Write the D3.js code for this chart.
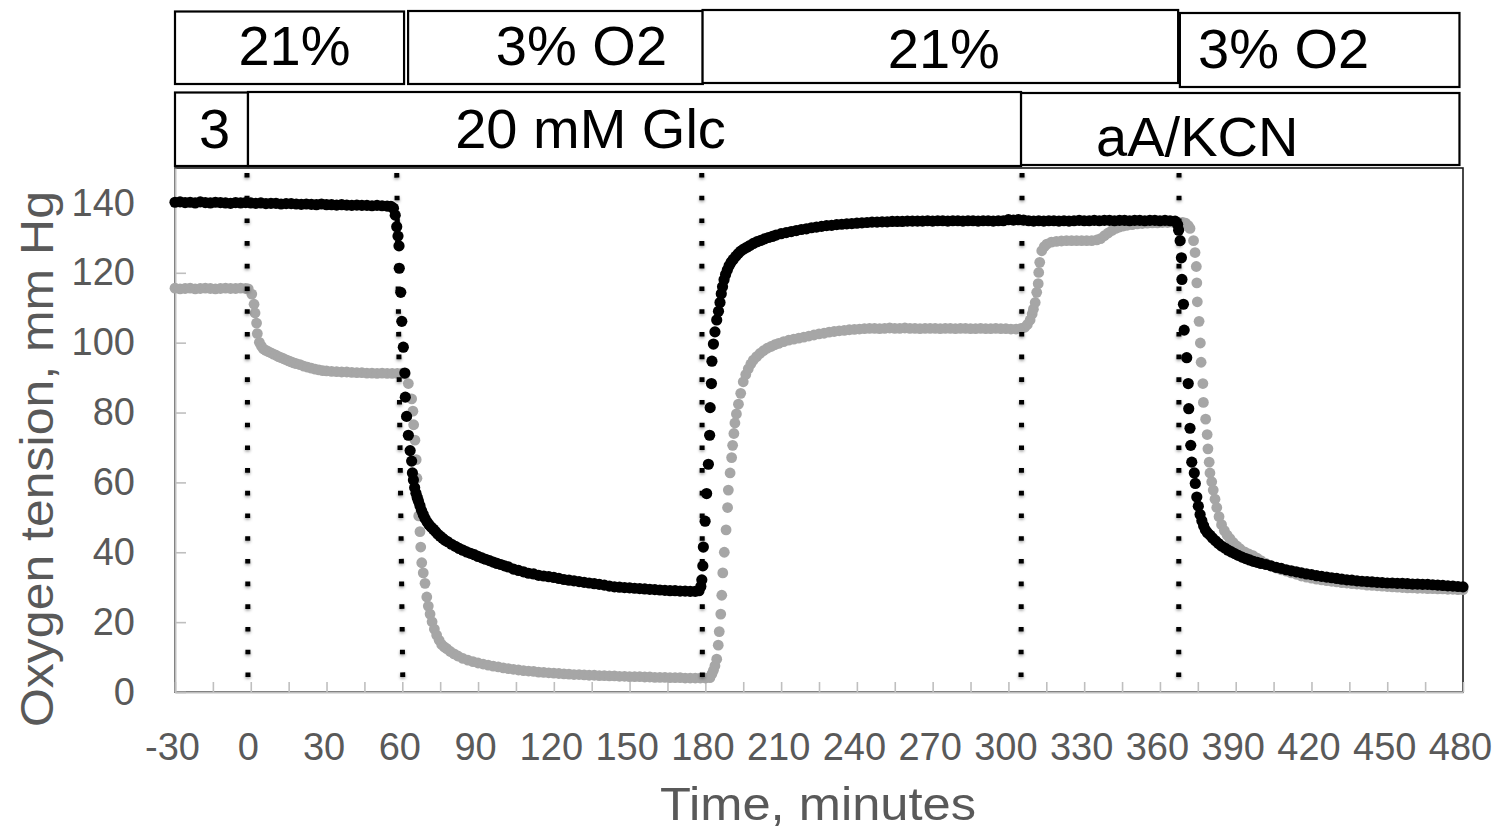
<!DOCTYPE html>
<html>
<head>
<meta charset="utf-8">
<script src="https://cdn.jsdelivr.net/npm/d3@7"></script>
<style>
  html, body { margin: 0; padding: 0; background: #fff; }
  svg { display: block; font-family: "Liberation Sans", Arial, sans-serif; }
</style>
</head>
<body>
<svg id="chart" width="1500" height="830"></svg>
<script>
// Oxygen tension traces, [time in minutes, mm Hg]
const blackTrace = [
[-30,140.2],[-28,140.3],[-26,140.1],[-24,140.2],[-22,140.0],[-20,140.3],[-18,140.1],[-16,140.0],[-14,140.2],[-12,140.1],[-10,140.0],[-8,139.9],[-6,140.1],[-4,140.0],[-2,140.1],[0,140.0],[2,139.9],[4,140.0],[6,139.8],[8,139.9],[10,139.9],[12,139.7],[14,139.8],[16,139.8],[18,139.7],[20,139.6],[22,139.7],[24,139.6],[26,139.5],[28,139.7],[30,139.5],[32,139.5],[34,139.4],[36,139.5],[38,139.4],[40,139.3],[42,139.4],[44,139.3],[46,139.3],[48,139.2],[50,139.3],[52,139.2],[54,139.1],[55.5,139.0],[56.5,138.5],
[57.2,136.5],[57.8,133.2],[58.3,130.5],[58.7,127.7],[58.8,121.3],[59.4,114.4],[59.8,106.1],[60.4,98.7],[61.0,91.3],[61.2,84.4],[61.7,78.9],[62.4,73.5],[63.1,69.1],[63.7,66.1],[64.0,62.7],[64.4,60.7],[64.9,58.5],[65.4,56.9],[65.9,55.7],[66.4,54.6],[67,53.3],[67.6,52.0],[68.3,50.8],[69,49.7],[69.8,48.7],[70.6,47.9],[71.4,47.2],[72.3,46.6],[73.2,45.9],[74,45.2],[75,44.6],[76,44.0],[77,43.4],[78,43.0],[79.5,42.3],[81,41.7],[82.5,41.1],[84,40.6],[85.5,40.1],[87,39.7],[88.5,39.3],[90,38.8],[91.5,38.4],[93,38.0],[94.5,37.6],[96,37.2],[97.5,36.8],[99,36.5],[100.5,36.1],[102,35.8],[104,35.2],[106,34.8],[108,34.4],[110,34.0],[112,33.8],[114,33.4],[116,33.2],[118,33.0],[120,32.8],[122,32.5],[124,32.2],[126,32.0],[128,31.8],[130,31.6],[132,31.4],[134,31.2],[136,31.0],[138,30.8],[140,30.6],[142,30.3],[144,30.1],[146,30.0],[148,29.9],[150,29.8],[152,29.7],[154,29.6],[156,29.5],[158,29.4],[160,29.3],[162,29.2],[164,29.1],[166,29.0],[168,29.0],[170,28.9],[172,28.9],[174,28.8],[176,28.8],[177.5,29.0],
[178.2,30.2],[178.6,32.1],[179.0,36.1],[179.2,41.5],[179.9,48.9],[180.5,56.8],[181.2,65.2],[181.7,73.5],[181.9,81.4],[182.4,88.3],[182.6,94.7],[183.2,99.6],[183.8,103.1],[184.5,106.5],[185.2,109.0],[185.8,111.5],[186.3,114.0],[186.8,116.0],[187.4,118.0],[188,119.5],[188.7,120.8],[189.4,122.0],[190.2,123.0],[191,123.8],[192,124.7],[193,125.5],[194,126.2],[195.2,126.8],[196.4,127.3],[197.6,127.8],[199,128.4],[200.5,128.9],[202,129.3],[203.5,129.7],[205,130.1],[206.5,130.4],[208,130.8],[210,131.2],[212,131.5],[214,131.8],[216,132.1],[218,132.4],[220,132.6],[222,132.9],[224,133.1],[226,133.3],[228,133.5],[230,133.6],[232,133.8],[234,133.9],[236,134.0],[238,134.1],[240,134.2],[242,134.3],[244,134.4],[246,134.5],[248,134.5],[250,134.6],[252,134.6],[254,134.7],[256,134.7],[258,134.7],[260,134.8],[262,134.8],[264,134.8],[266,134.8],[268,134.9],[270,134.8],[272,134.9],[274,134.9],[276,134.8],[278,134.9],[280,134.9],[282,134.8],[284,134.9],[286,134.9],[288,134.8],[290,134.9],[292,134.9],[294,134.8],[296,134.9],[298,134.9],[300,135.2],[302,135.1],[304,135.2],[306,135.1],[308,134.9],[310,134.8],[312,134.9],[314,134.8],[316,134.9],[318,134.9],[320,134.8],[322,134.9],[324,134.8],[326,134.9],[328,135.0],[330,134.9],[332,134.9],[334,135.0],[336,134.9],[338,135.0],[340,135.0],[342,134.9],[344,135.0],[346,135.0],[348,134.9],[350,135.0],[352,135.0],[354,134.9],[356,135.0],[358,135.0],[360,134.9],[362,135.0],[364,134.9],[366,134.8],
[367.0,133.8],[367.4,132.2],[368,129.2],[368.5,124.3],[368.7,118.1],[369.3,111.0],[369.6,103.6],[370.6,95.7],[371.2,88.3],[371.4,81.1],[371.9,75.5],[372.2,70.6],[372.6,65.8],[373.6,62.7],[374.0,59.7],[374.6,55.8],[375.2,53.2],[375.9,50.8],[376.6,49.0],[377.3,47.6],[378,46.4],[378.8,45.6],[379.8,44.9],[380.8,44.1],[382,43.3],[383.2,42.5],[384.4,41.8],[385.7,41.2],[387,40.6],[388.3,40.1],[389.6,39.6],[391,39.1],[392.5,38.6],[394,38.2],[395.5,37.8],[397,37.4],[398.5,37.1],[400,36.8],[402,36.5],[404,36.1],[406,35.7],[408,35.4],[410,35.0],[412,34.7],[414,34.4],[416,34.1],[418,33.8],[420,33.6],[422,33.3],[424,33.1],[426,32.9],[428,32.7],[430,32.5],[432,32.3],[434,32.1],[436,32.0],[438,31.8],[440,31.7],[442,31.6],[444,31.5],[446,31.4],[448,31.3],[450,31.2],[452,31.2],[454,31.1],[456,31.1],[458,31.0],[460,30.9],[462,30.9],[464,30.8],[466,30.8],[468,30.7],[470,30.6],[472,30.5],[474,30.4],[476,30.3],[478,30.2],[480,30.1]
];

const grayTrace = [
[-30,115.6],[-28,115.4],[-26,115.5],[-24,115.6],[-22,115.4],[-20,115.5],[-18,115.6],[-16,115.5],[-14,115.4],[-12,115.5],[-10,115.6],[-8,115.5],[-6,115.5],[-4,115.6],[-2,115.5],[-1,115.4],
[0.4,113.9],[1.3,111.0],[1.7,108.5],[2.3,105.6],[2.6,102.6],[3.4,100.1],[4.2,99.0],[5,98.2],[6,97.8],[7,97.4],[8,97.1],[9,96.7],[10,96.4],[11,96.0],[12,95.7],[13,95.4],[14,95.1],[15,94.8],[16,94.5],[17,94.2],[18,94.0],[19.5,93.7],[21,93.3],[22.5,93.0],[24,92.7],[25.5,92.4],[27,92.2],[28.5,92.0],[30,91.9],[32,91.8],[34,91.7],[36,91.6],[38,91.6],[40,91.5],[42,91.4],[44,91.4],[46,91.3],[48,91.3],[50,91.2],[52,91.3],[54,91.2],[56,91.2],[58,91.2],[60,91.3],
[61.1,91.0],[62.4,88.3],[63.7,83.9],[64.2,80.4],[64.5,76.5],[65,72.1],[65.5,66.5],[65.8,61.2],[66.2,55.5],[66.5,50.4],[67,45.9],[67.3,41.5],[67.7,37.0],[68.3,34.1],[69,31.1],[69.7,27.2],[70.3,24.6],[71,22.3],[71.8,20.1],[72.7,18.0],[73.6,16.3],[74.6,14.8],[75.6,13.6],[76.6,12.9],[77.6,12.4],[79,11.6],[80.5,10.9],[82,10.3],[84,9.6],[86,9.1],[88,8.7],[90,8.3],[92,8.0],[94,7.7],[96,7.4],[98,7.2],[100,6.9],[102,6.7],[104,6.5],[106,6.3],[108,6.1],[110,6.0],[112,5.9],[114,5.7],[116,5.6],[118,5.5],[120,5.4],[122,5.3],[124,5.2],[126,5.1],[128,5.0],[130,5.0],[132,4.9],[134,4.8],[136,4.8],[138,4.7],[140,4.7],[142,4.6],[144,4.6],[146,4.5],[148,4.5],[150,4.4],[152,4.4],[154,4.4],[156,4.3],[158,4.3],[160,4.2],[162,4.2],[164,4.2],[166,4.1],[168,4.1],[170,4.1],[172,4.0],[174,4.0],[176,4.0],[178,4.0],[180,4.0],[181.8,4.1],
[182.6,5.2],[183.2,6.2],[183.8,7.5],[184.5,9.4],[185.1,13.4],[185.5,17.3],[186.1,22.3],[186.5,27.7],[186.9,34.1],[187.5,40.0],[188.2,46.4],[188.8,52.8],[189.1,57.8],[189.8,62.7],[190.4,67.1],[190.8,70.6],[191.3,74.0],[191.7,77.0],[192.3,79.6],[193.1,82.4],[194,85.5],[195,88.8],[196,90.9],[197,92.5],[198,93.9],[199,95.0],[200.3,96.0],[201.6,96.9],[203,97.7],[204.5,98.4],[206,98.9],[207.5,99.4],[209,99.8],[211,100.3],[213,100.7],[215,101.0],[217,101.3],[219,101.6],[221,101.9],[223,102.2],[225,102.5],[227,102.7],[229,103.0],[231,103.2],[233,103.4],[235,103.5],[237,103.7],[239,103.8],[241,103.9],[243,104.0],[245,104.1],[247,104.1],[249,104.0],[251,104.1],[253,104.2],[255,104.1],[257,104.1],[259,104.2],[261,104.1],[263,104.1],[265,104.0],[267,104.1],[269,104.1],[271,104.1],[273,104.0],[275,104.1],[277,104.1],[279,104.0],[281,104.1],[283,104.1],[285,104.0],[287,104.0],[289,104.1],[291,104.0],[293,104.0],[295,104.1],[297,104.0],[299,104.0],[301,103.9],[303,103.9],[305,104.1],
[306.5,104.4],[307.5,105.2],[308.6,106.5],[309.4,108.2],[309.9,109.6],[310.6,111.5],[311.2,114.4],[311.8,116.9],[312.0,120.1],[312.4,123.0],[313.2,126.3],[314.2,127.5],[315.2,128.2],[317,128.8],[319,129.0],[321,129.1],[323,129.2],[325,129.2],[327,129.2],[329,129.2],[331,129.2],[333,129.2],[335,129.4],[336.5,129.8],[338,130.6],[339.5,131.4],[341,132.1],[342.5,132.7],[344,133.1],[345.5,133.4],[347,133.6],[349,133.8],[351,134.0],[353,134.1],[355,134.2],[357,134.3],[359,134.3],[361,134.4],[363,134.4],[365,134.5],[367,134.5],[369,134.4],
[370.2,134.2],[371.2,133.5],[371.9,132.7],[373.3,129.2],[373.9,125.8],[374.4,121.8],[374.6,117.1],[374.8,111.7],[375.5,106.1],[376.0,99.9],[376.3,94.4],[377.0,88.3],[377.2,82.9],[378.1,78.1],[378.7,73.7],[379.0,69.6],[379.5,65.8],[379.8,62.7],[380.5,60.2],[381.1,57.8],[381.8,55.2],[382.5,52.8],[383.4,50.2],[384.4,47.9],[385.5,46.2],[386.6,44.9],[387.7,43.9],[389,42.8],[390.4,41.8],[391.7,41.0],[393.5,40.1],[395.2,39.5],[396.9,39.0],[398.5,38.3],[400,37.6],[402,36.8],[404,36.1],[406,35.5],[408,35.0],[410,34.6],[412,34.1],[414,33.7],[416,33.2],[418,32.9],[420,32.6],[422,32.3],[424,32.1],[426,31.9],[428,31.7],[430,31.5],[432,31.3],[434,31.2],[436,31.0],[438,30.9],[440,30.8],[442,30.6],[444,30.5],[446,30.4],[448,30.3],[450,30.2],[452,30.1],[454,30.0],[456,29.9],[458,29.8],[460,29.8],[462,29.7],[464,29.7],[466,29.6],[468,29.6],[470,29.5],[472,29.5],[474,29.4],[476,29.4],[478,29.3],[480,29.3]
];

// Gas phases (top row) and medium additions (second row), in minutes
const gasPhases = [
  { label: "21%",   t0: -30,   t1: 60.7 },
  { label: "3% O2", t0: 62.3,  t1: 179.0 },
  { label: "21%",   t0: 178.9, t1: 367.2 },
  { label: "3% O2", t0: 367.9, t1: 478.6 }
];
const mediumPhases = [
  { label: "3",         t0: -30,  t1: -1.1 },
  { label: "20 mM Glc", t0: -1.1, t1: 305.0 },
  { label: "aA/KCN",    t0: 305.0, t1: 478.6 }
];

// Times at which conditions changed (dotted markers)
const eventTimes = [-1.3, 59.0, 178.7, 305.2, 367.5];

// Axis ticks
const xTickLabels = [-30, 0, 30, 60, 90, 120, 150, 180, 210, 240, 270, 300, 330, 360, 390, 420, 450, 480];
const xMinorTicks = [-15, 15, 45, 75, 105, 135, 165, 195, 225, 255, 285, 315, 345, 375, 405, 435, 465];
const yTicks = [0, 20, 40, 60, 80, 100, 120, 140];

// ---- layout ----
const gasBoxLayout = [
  { top: 11.5, bottom: 84, dx: 5,   baseline: 65 },
  { top: 11,   bottom: 84, dx: 26,  baseline: 65 },
  { top: 10,   bottom: 83, dx: 3.5, baseline: 68 },
  { top: 13,   bottom: 87, dx: -36, baseline: 68 }
];
const mediumBoxLayout = [
  { top: 92.5, bottom: 166, dx: 3,   baseline: 148 },
  { top: 92,   bottom: 166, dx: -44, baseline: 148 },
  { top: 93,   bottom: 165, dx: -43, baseline: 156 }
];
const eventTilt = [1, 6, 0.6, -1, -0.3];

const svg = d3.select("#chart");
const x = d3.scaleLinear().domain([-30, 480]).range([175, 1463]);
const y = d3.scaleLinear().domain([0, 150]).range([692, 168]);

const defs = svg.append("defs");
const shadow = defs.append("filter").attr("id", "soft").attr("x", "-50%").attr("y", "-10%").attr("width", "200%").attr("height", "120%");
shadow.append("feDropShadow").attr("dx", 0).attr("dy", 1.5).attr("stdDeviation", 1.8)
  .attr("flood-color", "#000").attr("flood-opacity", 0.4);

svg.append("rect").attr("width", 1500).attr("height", 830).attr("fill", "#fff");

// plot frame
svg.append("rect")
  .attr("x", x(-30)).attr("y", y(150))
  .attr("width", x(480) - x(-30)).attr("height", y(0) - y(150))
  .attr("fill", "none").attr("stroke", "#1a1a1a").attr("stroke-width", 1.6);

// axes
const axisColor = "#bfbfbf";
const labelColor = "#595959";

const gx = svg.append("g")
  .attr("transform", `translate(0,${y(0)})`)
  .call(d3.axisBottom(x)
    .tickValues(xTickLabels.concat(xMinorTicks).sort((a, b) => a - b))
    .tickSizeInner(-10).tickSizeOuter(0).tickPadding(41)
    .tickFormat(d => xTickLabels.includes(d) ? String(d) : ""));
gx.select(".domain").attr("stroke", axisColor).attr("stroke-width", 2);
gx.selectAll(".tick line").attr("stroke", axisColor).attr("stroke-width", 1.6);
gx.selectAll(".tick text").attr("fill", labelColor).attr("font-size", 38)
  .attr("font-family", "'Liberation Sans', Arial, sans-serif").attr("dx", -3);

const gy = svg.append("g")
  .attr("transform", `translate(${x(-30)},0)`)
  .call(d3.axisLeft(y).tickValues(yTicks).tickSizeInner(-11).tickSizeOuter(0).tickPadding(40));
gy.select(".domain").attr("stroke", axisColor).attr("stroke-width", 2);
gy.selectAll(".tick line").attr("stroke", axisColor).attr("stroke-width", 1.6);
gy.selectAll(".tick text").attr("fill", labelColor).attr("font-size", 38)
  .attr("font-family", "'Liberation Sans', Arial, sans-serif");

// data points: gray trace underneath, black trace on top
svg.append("g").selectAll("circle").data(grayTrace).join("circle")
  .attr("cx", d => x(d[0])).attr("cy", d => y(d[1])).attr("r", 5.4)
  .attr("fill", "#a6a6a6");
svg.append("g").selectAll("circle").data(blackTrace).join("circle")
  .attr("cx", d => x(d[0])).attr("cy", d => y(d[1])).attr("r", 5.6)
  .attr("fill", "#000");

// dotted event markers
svg.append("g").attr("filter", "url(#soft)").selectAll("line").data(eventTimes).join("line")
  .attr("x1", (d, i) => x(d) - eventTilt[i] / 2).attr("y1", 173)
  .attr("x2", (d, i) => x(d) + eventTilt[i] / 2).attr("y2", 679)
  .attr("stroke", "#000").attr("stroke-width", 5)
  .attr("stroke-dasharray", "4.6 18.1");

// condition boxes
function drawRow(phases, layout) {
  const g = svg.append("g");
  phases.forEach((p, i) => {
    const L = layout[i];
    const x0 = x(p.t0), x1 = x(p.t1);
    g.append("rect")
      .attr("x", x0).attr("y", L.top)
      .attr("width", x1 - x0).attr("height", L.bottom - L.top)
      .attr("fill", "#fff").attr("stroke", "#000").attr("stroke-width", 2.2);
    g.append("text")
      .attr("x", (x0 + x1) / 2 + L.dx).attr("y", L.baseline)
      .attr("text-anchor", "middle").attr("font-size", 56).attr("fill", "#000")
      .text(p.label);
  });
}
drawRow(gasPhases, gasBoxLayout);
drawRow(mediumPhases, mediumBoxLayout);

// axis titles
svg.append("text")
  .attr("x", 818).attr("y", 820)
  .attr("text-anchor", "middle").attr("font-size", 46).attr("fill", labelColor)
  .attr("textLength", 316).attr("lengthAdjust", "spacingAndGlyphs")
  .text("Time, minutes");
svg.append("text")
  .attr("transform", "translate(53,459) rotate(-90)")
  .attr("text-anchor", "middle").attr("font-size", 46).attr("fill", labelColor)
  .attr("textLength", 536).attr("lengthAdjust", "spacingAndGlyphs")
  .text("Oxygen tension, mm Hg");
</script>
</body>
</html>
